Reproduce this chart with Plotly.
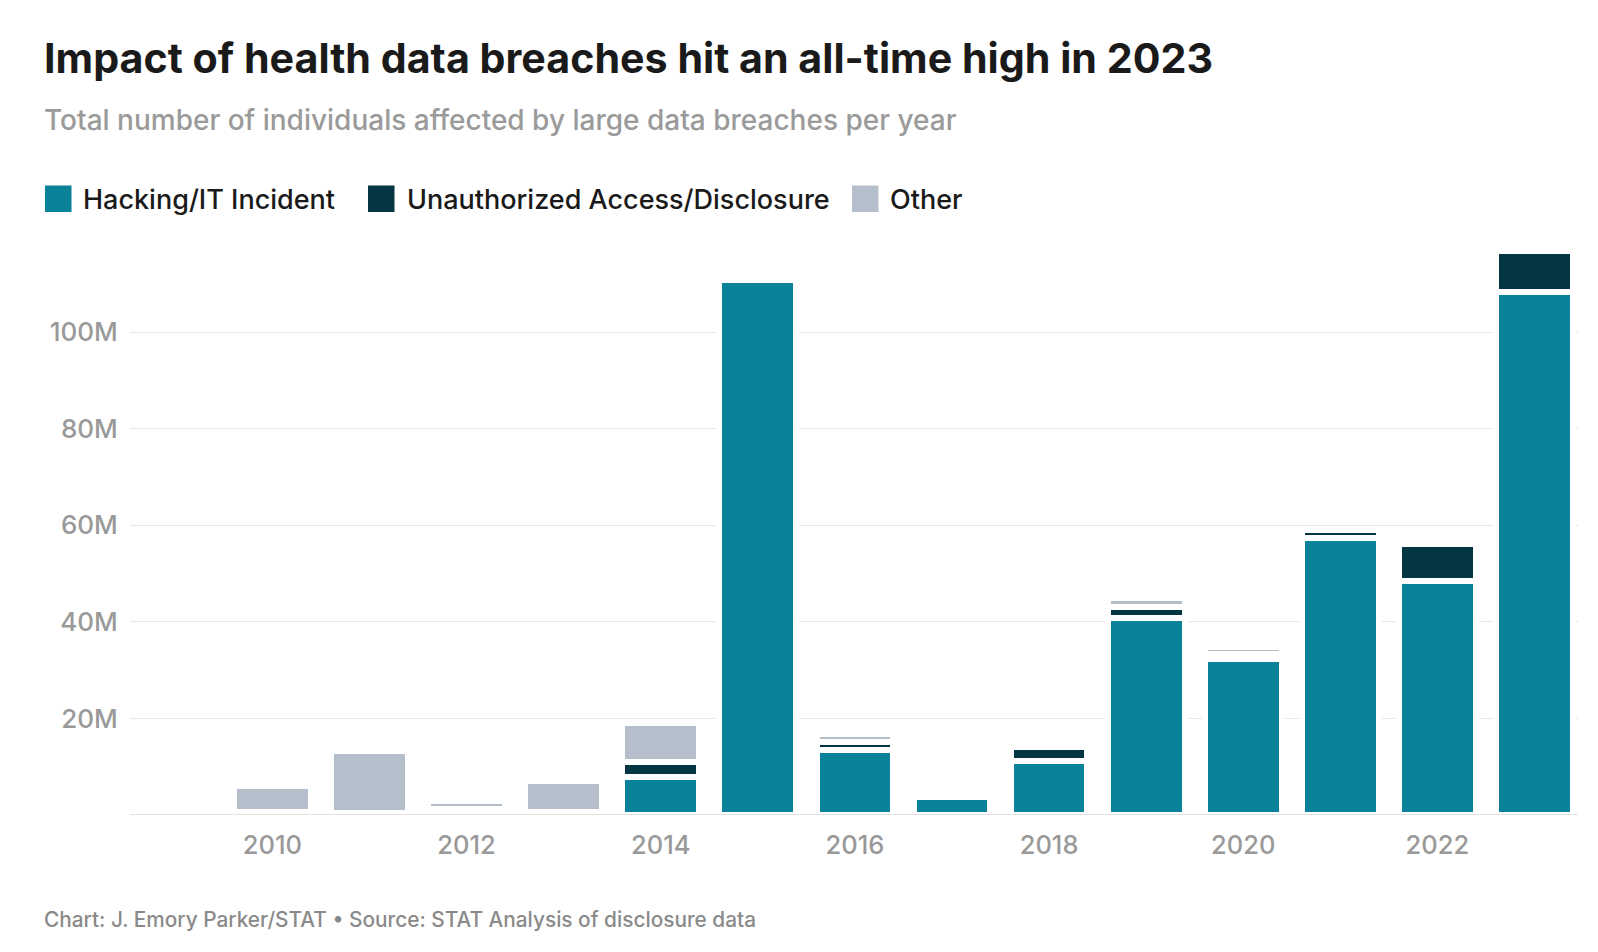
import plotly.graph_objects as go

# ---- data (millions of individuals affected) ----
years = [2010, 2011, 2012, 2013, 2014, 2015, 2016, 2017, 2018, 2019, 2020, 2021, 2022, 2023]
hacking = [0.2, 0.15, 0.5, 0.25, 7.88, 110.7, 13.47, 3.7, 11.19, 40.77, 32.28, 57.36, 48.43, 108.3]
unauthorized = [0.45, 0.3, 0.7, 0.4, 3.1, 0.0, 1.66, 0.5, 2.87, 2.28, 1.04, 1.63, 7.66, 8.46]
other = [5.3, 12.8, 1.66, 6.36, 8.04, 0.0, 1.63, 0.4, 0.0, 1.86, 1.45, 0.0, 0.0, 0.0]

series_names = ["Hacking/IT Incident", "Unauthorized Access/Disclosure", "Other"]
series_colors = ["#0a8299", "#033642", "#b5bfcc"]
x_tick_vals = [2010, 2012, 2014, 2016, 2018, 2020, 2022]
y_tick_vals = [20, 40, 60, 80, 100]

FONT = "Inter"
M = 1e6

# plot-area pixel box (used only for placing titles / legend in paper coords)
L, R, T, B = 130, 1578, 240, 815
W, H = 1598, 952


def xp(px):
    return (px - L) / (R - L)


def yp(py):
    return (B - py) / (B - T)


fig = go.Figure()
for name, vals, col in zip(series_names, [hacking, unauthorized, other], series_colors):
    fig.add_trace(go.Bar(
        x=years, y=[v * M for v in vals], name=name,
        marker=dict(color=col, line=dict(color="white", width=6)),
        width=0.79, showlegend=False,
        hovertemplate="%{x}: %{y:.3s}<extra>" + name + "</extra>",
    ))

annotations = [
    dict(text="Impact of health data breaches hit an all-time high in 2023",
         x=xp(42), y=yp(58), xref="paper", yref="paper", xanchor="left", yanchor="middle",
         showarrow=False, font=dict(family=FONT, size=41.2, color="#1a1a1a", weight=700)),
    dict(text="Total number of individuals affected by large data breaches per year",
         x=xp(42), y=yp(120), xref="paper", yref="paper", xanchor="left", yanchor="middle",
         showarrow=False, font=dict(family=FONT, size=28, color="#9a9a9a", weight=500)),
    dict(text="Chart: J. Emory Parker/STAT \u2022 Source: STAT Analysis of disclosure data",
         x=xp(42), y=yp(919), xref="paper", yref="paper", xanchor="left", yanchor="middle",
         showarrow=False, font=dict(family=FONT, size=20.8, color="#8a8a8a", weight=500)),
]

shapes = []
legend_sq = [45, 368, 852]
legend_tx = [81, 405, 888]
for name, col, sx, tx in zip(series_names, series_colors, legend_sq, legend_tx):
    shapes.append(dict(type="rect", xref="paper", yref="paper",
                       x0=xp(sx), x1=xp(sx + 26.5), y0=yp(212), y1=yp(185.5),
                       fillcolor=col, line=dict(width=0)))
    annotations.append(dict(text=name, x=xp(tx), y=yp(199), xref="paper", yref="paper",
                            xanchor="left", yanchor="middle", showarrow=False,
                            font=dict(family=FONT, size=27, color="#1a1a1a", weight=500)))

# baseline
shapes.append(dict(type="line", xref="paper", yref="y", x0=0, x1=1, y0=0, y1=0,
                   line=dict(color="#e2e2e2", width=2), layer="above"))

fig.update_layout(
    width=W, height=H,
    margin=dict(l=L, r=W - R, t=T, b=H - B, pad=0),
    paper_bgcolor="white", plot_bgcolor="white",
    barmode="stack",
    font=dict(family=FONT, color="#999999"),
    annotations=annotations, shapes=shapes,
    xaxis=dict(range=[2008.533, 2023.448], tickvals=x_tick_vals,
               ticktext=[str(v) for v in x_tick_vals], showgrid=False, zeroline=False,
               showline=False, ticks="outside", ticklen=7, tickcolor="rgba(0,0,0,0)",
               tickfont=dict(family=FONT, size=25.5, color="#999999", weight=500), fixedrange=True),
    yaxis=dict(range=[0, 119.05 * M], tickvals=[v * M for v in y_tick_vals],
               ticktext=[f"{v}M" for v in y_tick_vals], showgrid=True, gridcolor="#e6e6e6",
               gridwidth=1.3, zeroline=False, showline=False, ticks="outside", ticklen=6,
               tickcolor="rgba(0,0,0,0)", tickfont=dict(family=FONT, size=26, color="#999999", weight=500),
               fixedrange=True),
    bargap=0.2,
)

fig.write_html("out.html", post_script="document.body.style.margin='0';",
               config={"displayModeBar": False})
